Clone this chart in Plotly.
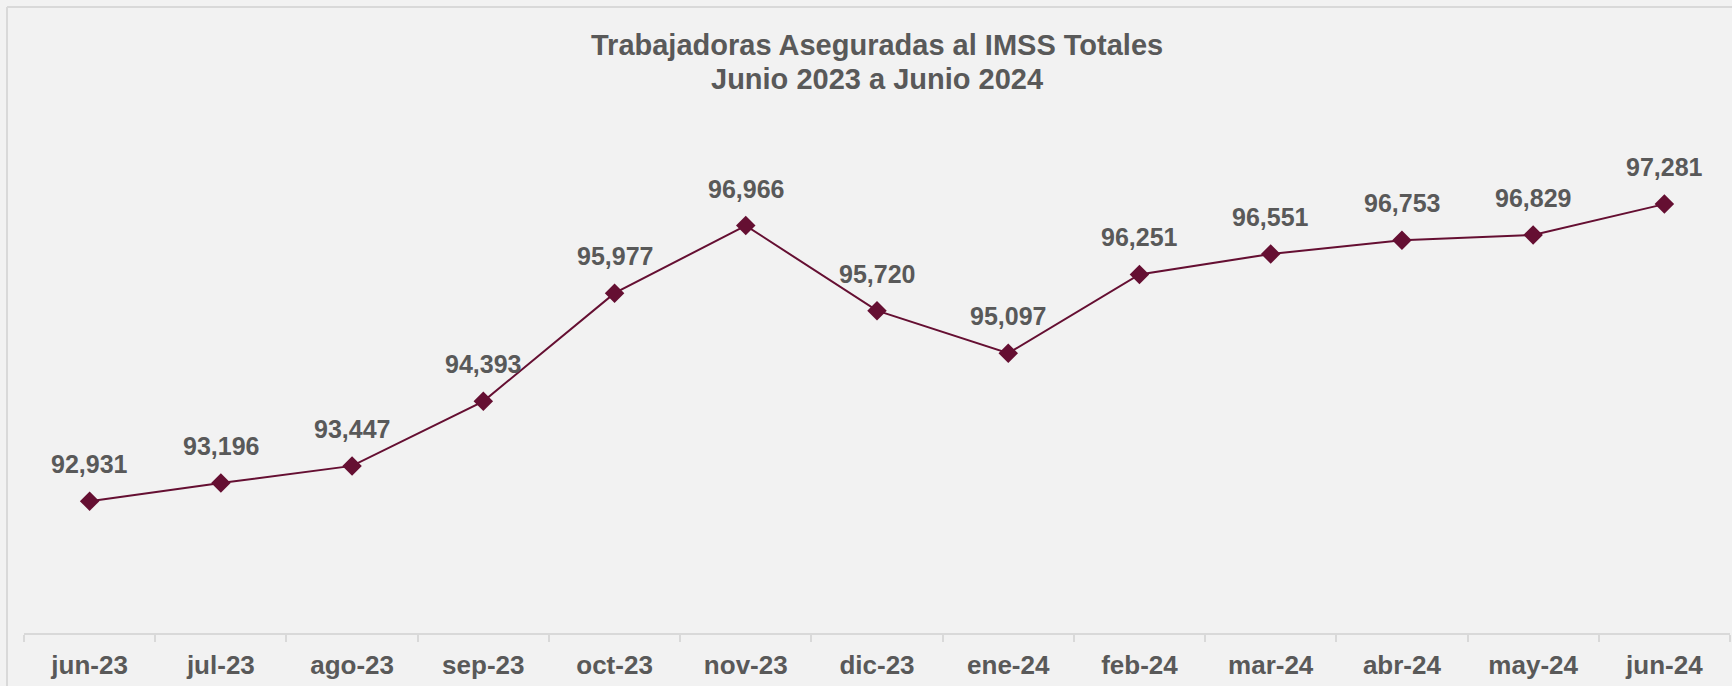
import plotly.graph_objects as go

categories = ["jun-23", "jul-23", "ago-23", "sep-23", "oct-23", "nov-23", "dic-23",
              "ene-24", "feb-24", "mar-24", "abr-24", "may-24", "jun-24"]
values = [92931, 93196, 93447, 94393, 95977, 96966, 95720,
          95097, 96251, 96551, 96753, 96829, 97281]
title_lines = ["Trabajadoras Aseguradas al IMSS Totales", "Junio 2023 a Junio 2024"]

W, H = 1732, 686
ML, MR, MT, MB = 24, 2, 155, 53
PW = W - ML - MR
PH = H - MT - MB

def px(x):
    return (x - ML) / PW

def py(y):
    return (H - MB - y) / PH

TEXT = "#595959"
LINE = "#650F32"
GRID = "#D9D9D9"
FONT = "Liberation Sans, Arial, sans-serif"

fig = go.Figure()
fig.add_trace(go.Scatter(
    x=categories, y=values, mode="lines+markers",
    line=dict(color=LINE, width=2),
    marker=dict(symbol="diamond", size=15, color=LINE),
    hoverinfo="skip", showlegend=False,
))

annotations = []
for c, v in zip(categories, values):
    annotations.append(dict(
        x=c, y=v, xref="x", yref="y", text=f"<b>{v:,}</b>", showarrow=False,
        yshift=37, yanchor="middle", xanchor="center",
        font=dict(family=FONT, size=25, color=TEXT),
    ))
for line, yc in zip(title_lines, [45, 79.5]):
    annotations.append(dict(
        x=px(877), y=py(yc), xref="paper", yref="paper", text=f"<b>{line}</b>",
        showarrow=False, xanchor="center", yanchor="middle",
        font=dict(family=FONT, size=29, color=TEXT),
    ))

shapes = [
    dict(type="line", xref="paper", yref="paper", x0=px(7), x1=px(W + 5), y0=py(7), y1=py(7),
         line=dict(color=GRID, width=2)),
    dict(type="line", xref="paper", yref="paper", x0=px(7), x1=px(7), y0=py(7), y1=py(H + 5),
         line=dict(color=GRID, width=2)),
]

fig.update_layout(
    width=W, height=H,
    margin=dict(l=ML, r=MR, t=MT, b=MB, pad=0),
    paper_bgcolor="#F2F2F2", plot_bgcolor="#F2F2F2",
    annotations=annotations, shapes=shapes,
    xaxis=dict(
        type="category", range=[-0.5, 12.5], showgrid=False, zeroline=False,
        showline=True, linecolor=GRID, linewidth=2,
        ticks="outside", tickson="boundaries", ticklen=7, tickcolor=GRID, tickwidth=2,
        tickfont=dict(family=FONT, size=26, color=TEXT),
        tickvals=categories, ticktext=[f"<b>{c}</b>" for c in categories],
        ticklabelstandoff=8,
        fixedrange=True,
    ),
    yaxis=dict(range=[91000, 98000], visible=False, showgrid=False, zeroline=False,
               fixedrange=True),
)

fig.write_html(
    "out.html",
    config={"displayModeBar": False},
    post_script="document.body.style.margin='0';document.body.style.overflow='hidden';",
)
